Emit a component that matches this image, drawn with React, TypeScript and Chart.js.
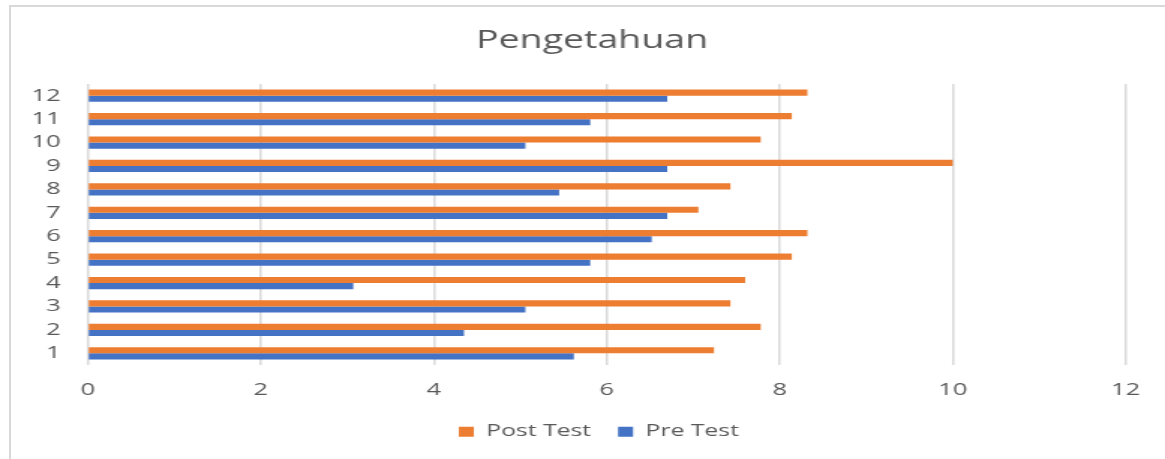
import React, { useEffect, useRef } from 'react';
import { Chart, registerables } from 'chart.js';

Chart.register(...registerables);

// ---- data ----
const categories = ['1', '2', '3', '4', '5', '6', '7', '8', '9', '10', '11', '12'];
const postTest = [7.24, 7.78, 7.43, 7.6, 8.14, 8.32, 7.06, 7.43, 10, 7.78, 8.14, 8.32];
const preTest = [5.62, 4.35, 5.06, 3.07, 5.81, 6.52, 6.7, 5.45, 6.7, 5.06, 5.81, 6.7];
const seriesLabels = ['Post Test', 'Pre Test'];
const chartTitle = 'Pengetahuan';
const xMin = 0;
const xMax = 12;
const xStep = 2;

// internal canvas width; the picture is shown stretched horizontally
const INTERNAL_W = 777;
const H = 459;
const DISPLAY_W = 1165;

const TEXT = '#595959';
const GRID = '#d9d9d9';
const FONT = "'Open Sans', 'Noto Sans', sans-serif";

const TITLE_SHIFT = 19.5;
const LEGEND_SHIFT = 24;

const boxShift = {
  id: 'boxShift',
  afterLayout(chart: any) {
    const t = chart.titleBlock;
    if (t) {
      t.left += TITLE_SHIFT;
      t.right += TITLE_SHIFT;
    }
    const l = chart.legend;
    if (l) {
      l.left += LEGEND_SHIFT;
      l.right += LEGEND_SHIFT;
    }
  },
};

export default function App() {
  const ref = useRef<HTMLCanvasElement | null>(null);

  useEffect(() => {
    document.body.style.margin = '0';
    const canvas = ref.current;
    if (!canvas) return;
    Chart.defaults.font.family = FONT;
    const chart = new Chart(canvas, {
      type: 'bar',
      data: {
        labels: categories,
        datasets: [
          {
            label: seriesLabels[0],
            data: postTest,
            backgroundColor: '#ED7D31',
            categoryPercentage: 0.52,
            barPercentage: 1,
          },
          {
            label: seriesLabels[1],
            data: preTest,
            backgroundColor: '#4472C4',
            categoryPercentage: 0.52,
            barPercentage: 1,
          },
        ],
      },
      options: {
        indexAxis: 'y',
        responsive: false,
        animation: false,
        devicePixelRatio: 1,
        layout: { padding: { left: 0, right: 26.2, top: 0, bottom: 9 } },
        plugins: {
          title: {
            display: true,
            text: chartTitle,
            color: TEXT,
            font: { size: 25, weight: 'normal', family: FONT, lineHeight: 1.2 },
            padding: { top: 25.5, bottom: 28.5 },
          },
          legend: {
            display: true,
            position: 'bottom',
            labels: {
              color: TEXT,
              boxWidth: 10,
              boxHeight: 10,
              padding: 18,
              font: { size: 16.5, family: FONT },
            },
          },
          tooltip: { enabled: false },
        },
        scales: {
          x: {
            type: 'linear',
            min: xMin,
            max: xMax,
            ticks: {
              stepSize: xStep,
              color: TEXT,
              padding: 15,
              font: { size: 17, family: FONT },
            },
            grid: { color: GRID, lineWidth: 1.5, drawTicks: false },
            border: { display: false },
            afterFit: (scale: any) => {
              scale.height = 40.5;
            },
          },
          y: {
            reverse: true,
            ticks: {
              color: TEXT,
              padding: 18,
              font: { size: 17, family: FONT },
            },
            grid: { display: false, drawTicks: false },
            border: { display: false },
            afterFit: (scale: any) => {
              scale.width = 58.5;
            },
          },
        },
      } as any,
      plugins: [boxShift],
    });
    return () => chart.destroy();
  }, []);

  return (
    <div style={{ position: 'relative', width: DISPLAY_W, height: H, overflow: 'hidden', background: '#fff' }}>
      <canvas
        ref={ref}
        width={INTERNAL_W}
        height={H}
        style={{ width: DISPLAY_W + 'px', height: H + 'px', display: 'block' }}
      />
      <div
        style={{
          position: 'absolute',
          left: 9,
          top: 5,
          width: 1400,
          height: 700,
          borderLeft: '2px solid ' + GRID,
          borderTop: '2px solid ' + GRID,
          pointerEvents: 'none',
        }}
      />
    </div>
  );
}
